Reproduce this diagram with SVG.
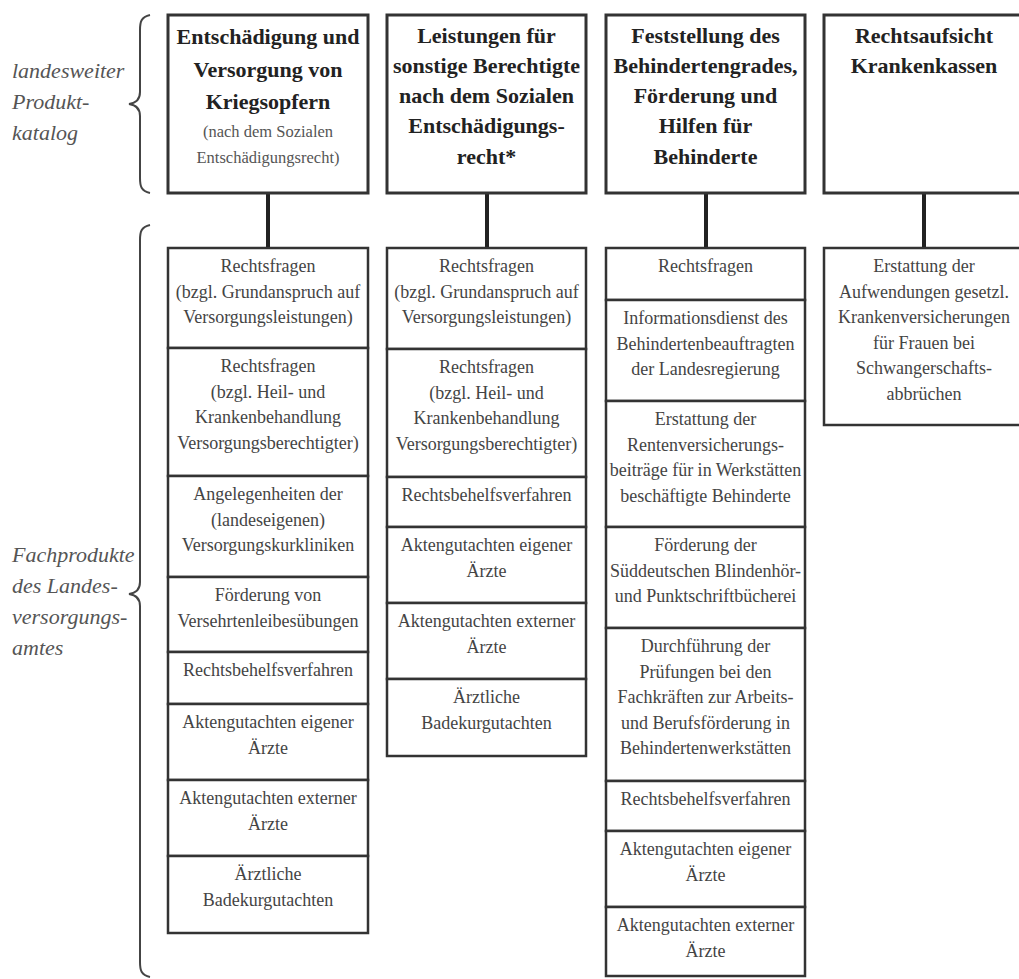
<svg xmlns="http://www.w3.org/2000/svg" width="1019" height="979" viewBox="0 0 1019 979">
<style>
.hb{fill:#fff;stroke:#333;stroke-width:3}
.sb{fill:#fff;stroke:#333;stroke-width:2.5}
.ht{font-family:"Liberation Serif",serif;font-weight:bold;font-size:22px;fill:#222;text-anchor:middle}
.hs{font-family:"Liberation Serif",serif;font-size:16.5px;fill:#555;text-anchor:middle}
.st{font-family:"Liberation Serif",serif;font-size:18px;fill:#444;text-anchor:middle}
.lb{font-family:"Liberation Serif",serif;font-style:italic;font-size:22px;fill:#555}
.br{fill:none;stroke:#444;stroke-width:2}
.cn{stroke:#222;stroke-width:4}
</style>
<rect width="1019" height="979" fill="#fff"/>
<g id="labels">
<path class="br" d="M150,15 C141,17 140,22 140,30 L140,92 C140,100 136,103 129,104 C136,105 140,108 140,116 L140,178 C140,186 141,191 150,193"/>
<path class="br" d="M150,225 C141,227 140,232 140,240 L140,582 C140,590 136,593 129,594 C136,595 140,598 140,606 L140,962 C140,970 141,975 150,977"/>
<text class="lb"><tspan x="12" y="78">landesweiter</tspan><tspan x="12" y="109">Produkt-</tspan><tspan x="12" y="140">katalog</tspan></text>
<text class="lb"><tspan x="12" y="562">Fachprodukte</tspan><tspan x="12" y="593">des Landes-</tspan><tspan x="12" y="624">versorgungs-</tspan><tspan x="12" y="655">amtes</tspan></text>
</g>
<g id="connectors">
<line class="cn" x1="268" y1="193" x2="268" y2="248"/>
<line class="cn" x1="487" y1="193" x2="487" y2="248"/>
<line class="cn" x1="706" y1="193" x2="706" y2="248"/>
<line class="cn" x1="924" y1="193" x2="924" y2="248"/>
</g>
<g id="h1">
<rect class="hb" x="168" y="15" width="200" height="178"/>
<text class="ht"><tspan x="268" y="44">Entschädigung und</tspan><tspan x="268" y="77">Versorgung von</tspan><tspan x="268" y="109">Kriegsopfern</tspan></text>
<text class="hs"><tspan x="268" y="137">(nach dem Sozialen</tspan><tspan x="268" y="163">Entschädigungsrecht)</tspan></text>
</g>
<g id="h2">
<rect class="hb" x="387" y="15" width="199" height="178"/>
<text class="ht"><tspan x="486.5" y="43">Leistungen für</tspan><tspan x="486.5" y="73">sonstige Berechtigte</tspan><tspan x="486.5" y="103">nach dem Sozialen</tspan><tspan x="486.5" y="133">Entschädigungs-</tspan><tspan x="486.5" y="164">recht*</tspan></text>
</g>
<g id="h3">
<rect class="hb" x="606" y="15" width="199" height="178"/>
<text class="ht"><tspan x="705.5" y="43">Feststellung des</tspan><tspan x="705.5" y="73">Behindertengrades,</tspan><tspan x="705.5" y="103">Förderung und</tspan><tspan x="705.5" y="133">Hilfen für</tspan><tspan x="705.5" y="164">Behinderte</tspan></text>
</g>
<g id="h4">
<rect class="hb" x="824" y="15" width="200" height="178"/>
<text class="ht"><tspan x="924" y="43">Rechtsaufsicht</tspan><tspan x="924" y="73">Krankenkassen</tspan></text>
</g>
<g id="c1">
<rect class="sb" x="168" y="248" width="200" height="100"/>
<text class="st"><tspan x="268" y="272">Rechtsfragen</tspan><tspan x="268" y="297.5">(bzgl. Grundanspruch auf</tspan><tspan x="268" y="323">Versorgungsleistungen)</tspan></text>
<rect class="sb" x="168" y="348" width="200" height="128"/>
<text class="st"><tspan x="268" y="372">Rechtsfragen</tspan><tspan x="268" y="397.5">(bzgl. Heil- und</tspan><tspan x="268" y="423">Krankenbehandlung</tspan><tspan x="268" y="448.5">Versorgungsberechtigter)</tspan></text>
<rect class="sb" x="168" y="476" width="200" height="101"/>
<text class="st"><tspan x="268" y="500">Angelegenheiten der</tspan><tspan x="268" y="525.5">(landeseigenen)</tspan><tspan x="268" y="551">Versorgungskurkliniken</tspan></text>
<rect class="sb" x="168" y="577" width="200" height="75"/>
<text class="st"><tspan x="268" y="601">Förderung von</tspan><tspan x="268" y="626.5">Versehrtenleibesübungen</tspan></text>
<rect class="sb" x="168" y="652" width="200" height="52"/>
<text class="st"><tspan x="268" y="676">Rechtsbehelfsverfahren</tspan></text>
<rect class="sb" x="168" y="704" width="200" height="76"/>
<text class="st"><tspan x="268" y="728">Aktengutachten eigener</tspan><tspan x="268" y="753.5">Ärzte</tspan></text>
<rect class="sb" x="168" y="780" width="200" height="76"/>
<text class="st"><tspan x="268" y="804">Aktengutachten externer</tspan><tspan x="268" y="829.5">Ärzte</tspan></text>
<rect class="sb" x="168" y="856" width="200" height="77"/>
<text class="st"><tspan x="268" y="880">Ärztliche</tspan><tspan x="268" y="905.5">Badekurgutachten</tspan></text>
</g>
<g id="c2">
<rect class="sb" x="387" y="248" width="199" height="101"/>
<text class="st"><tspan x="486.5" y="272">Rechtsfragen</tspan><tspan x="486.5" y="297.5">(bzgl. Grundanspruch auf</tspan><tspan x="486.5" y="323">Versorgungsleistungen)</tspan></text>
<rect class="sb" x="387" y="349" width="199" height="128"/>
<text class="st"><tspan x="486.5" y="373">Rechtsfragen</tspan><tspan x="486.5" y="398.5">(bzgl. Heil- und</tspan><tspan x="486.5" y="424">Krankenbehandlung</tspan><tspan x="486.5" y="449.5">Versorgungsberechtigter)</tspan></text>
<rect class="sb" x="387" y="477" width="199" height="50"/>
<text class="st"><tspan x="486.5" y="501">Rechtsbehelfsverfahren</tspan></text>
<rect class="sb" x="387" y="527" width="199" height="76"/>
<text class="st"><tspan x="486.5" y="551">Aktengutachten eigener</tspan><tspan x="486.5" y="576.5">Ärzte</tspan></text>
<rect class="sb" x="387" y="603" width="199" height="76"/>
<text class="st"><tspan x="486.5" y="627">Aktengutachten externer</tspan><tspan x="486.5" y="652.5">Ärzte</tspan></text>
<rect class="sb" x="387" y="679" width="199" height="77"/>
<text class="st"><tspan x="486.5" y="703">Ärztliche</tspan><tspan x="486.5" y="728.5">Badekurgutachten</tspan></text>
</g>
<g id="c3">
<rect class="sb" x="606" y="248" width="199" height="52"/>
<text class="st"><tspan x="705.5" y="272">Rechtsfragen</tspan></text>
<rect class="sb" x="606" y="300" width="199" height="101"/>
<text class="st"><tspan x="705.5" y="324">Informationsdienst des</tspan><tspan x="705.5" y="349.5">Behindertenbeauftragten</tspan><tspan x="705.5" y="375">der Landesregierung</tspan></text>
<rect class="sb" x="606" y="401" width="199" height="126"/>
<text class="st"><tspan x="705.5" y="425">Erstattung der</tspan><tspan x="705.5" y="450.5">Rentenversicherungs-</tspan><tspan x="705.5" y="476">beiträge für in Werkstätten</tspan><tspan x="705.5" y="501.5">beschäftigte Behinderte</tspan></text>
<rect class="sb" x="606" y="527" width="199" height="101"/>
<text class="st"><tspan x="705.5" y="551">Förderung der</tspan><tspan x="705.5" y="576.5">Süddeutschen Blindenhör-</tspan><tspan x="705.5" y="602">und Punktschriftbücherei</tspan></text>
<rect class="sb" x="606" y="628" width="199" height="153"/>
<text class="st"><tspan x="705.5" y="652">Durchführung der</tspan><tspan x="705.5" y="677.5">Prüfungen bei den</tspan><tspan x="705.5" y="703">Fachkräften zur Arbeits-</tspan><tspan x="705.5" y="728.5">und Berufsförderung in</tspan><tspan x="705.5" y="754">Behindertenwerkstätten</tspan></text>
<rect class="sb" x="606" y="781" width="199" height="50"/>
<text class="st"><tspan x="705.5" y="805">Rechtsbehelfsverfahren</tspan></text>
<rect class="sb" x="606" y="831" width="199" height="76"/>
<text class="st"><tspan x="705.5" y="855">Aktengutachten eigener</tspan><tspan x="705.5" y="880.5">Ärzte</tspan></text>
<rect class="sb" x="606" y="907" width="199" height="69"/>
<text class="st"><tspan x="705.5" y="931">Aktengutachten externer</tspan><tspan x="705.5" y="956.5">Ärzte</tspan></text>
</g>
<g id="c4">
<rect class="sb" x="824" y="248" width="200" height="177"/>
<text class="st"><tspan x="924" y="272">Erstattung der</tspan><tspan x="924" y="297.5">Aufwendungen gesetzl.</tspan><tspan x="924" y="323">Krankenversicherungen</tspan><tspan x="924" y="348.5">für Frauen bei</tspan><tspan x="924" y="374">Schwangerschafts-</tspan><tspan x="924" y="399.5">abbrüchen</tspan></text>
</g>
</svg>
